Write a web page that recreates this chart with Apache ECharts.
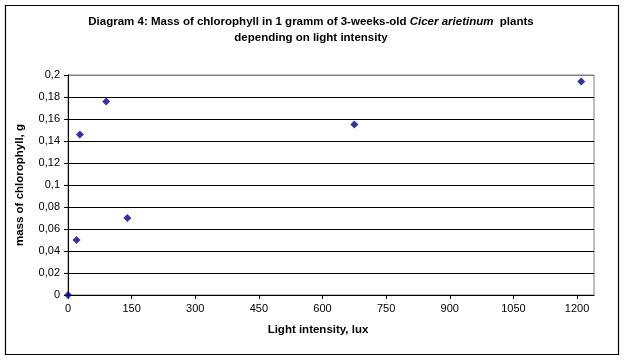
<!DOCTYPE html>
<html><head><meta charset="utf-8">
<script src="https://cdn.jsdelivr.net/npm/echarts@6/dist/echarts.min.js"></script>
<style>html,body{margin:0;padding:0;background:#fff}#c{width:624px;height:360px}</style>
</head><body><div id="c"></div>
<script>
// Data
const lightLux = [0, 20, 28, 90, 140, 675, 1210];
const chlorophyll = [0, 0.05, 0.146, 0.176, 0.07, 0.155, 0.194];
const xTicks = [0, 150, 300, 450, 600, 750, 900, 1050, 1200];
const titleLine1 = ['Diagram 4: Mass of chlorophyll in 1 gramm of 3-weeks-old ', 'Cicer arietinum', '  plants'];
const titleLine2 = 'depending on light intensity';
const xName = 'Light intensity, lux';
const yName = 'mass of chlorophyll, g';

const FONT = 'Liberation Sans, Arial, sans-serif';
const chart = echarts.init(document.getElementById('c'), null, {renderer: 'canvas'});
const splitColors = [];
for (let i = 0; i < 10; i++) splitColors.push('#000');
splitColors.push('#808080');

chart.setOption({
  backgroundColor: '#fff',
  animation: false,
  title: {
    text: '{b|' + titleLine1[0] + '}{i|' + titleLine1[1] + '}{b|' + titleLine1[2] + '}\n{b|' + titleLine2 + '}',
    left: 306, top: 9, textAlign: 'center',
    textStyle: {
      lineHeight: 16,
      rich: {
        b: {fontFamily: FONT, fontSize: 11.5, fontWeight: 'bold', color: '#000', lineHeight: 16},
        i: {fontFamily: FONT, fontSize: 11.5, fontWeight: 'bold', fontStyle: 'italic', color: '#000', lineHeight: 16}
      }
    }
  },
  graphic: [{
    type: 'rect', shape: {x: 5.5, y: 5.5, width: 613, height: 349},
    style: {fill: 'none', stroke: '#000', lineWidth: 1.2}, silent: true, z: 100
  }],
  grid: {left: 68, right: 30, top: 75, bottom: 65, show: true, borderColor: '#808080', borderWidth: 1, backgroundColor: '#fff'},
  xAxis: {
    type: 'value', min: 0, max: 1240, interval: 150,
    name: xName, nameLocation: 'middle', nameGap: 29,
    nameTextStyle: {fontFamily: FONT, fontSize: 11.5, fontWeight: 'bold', color: '#000', padding: [0, 26, 0, 0]},
    axisLine: {show: true, lineStyle: {color: '#000', width: 1}},
    axisTick: {show: true, length: 4, lineStyle: {color: '#000'}, customValues: xTicks},
    axisLabel: {fontFamily: FONT, fontSize: 11, color: '#000', margin: 8, customValues: xTicks,
      formatter: v => String(v)},
    splitLine: {show: false}
  },
  yAxis: {
    type: 'value', min: 0, max: 0.2, interval: 0.02,
    name: yName, nameLocation: 'middle', nameGap: 42, nameRotate: 90,
    nameTextStyle: {fontFamily: FONT, fontSize: 11.5, fontWeight: 'bold', color: '#000'},
    axisLine: {show: true, lineStyle: {color: '#000', width: 1}},
    axisTick: {show: true, length: 4, lineStyle: {color: '#000'}},
    axisLabel: {fontFamily: FONT, fontSize: 11, color: '#000', margin: 8,
      formatter: v => String(+v.toFixed(2)).replace('.', ',')},
    splitLine: {show: true, lineStyle: {color: splitColors, width: 1}}
  },
  series: [{
    type: 'scatter',
    data: lightLux.map((x, i) => [x, chlorophyll[i]]),
    symbol: 'diamond', symbolSize: [8, 8],
    itemStyle: {color: '#000080'},
    clip: false, z: 10
  }]
});
</script></body></html>
